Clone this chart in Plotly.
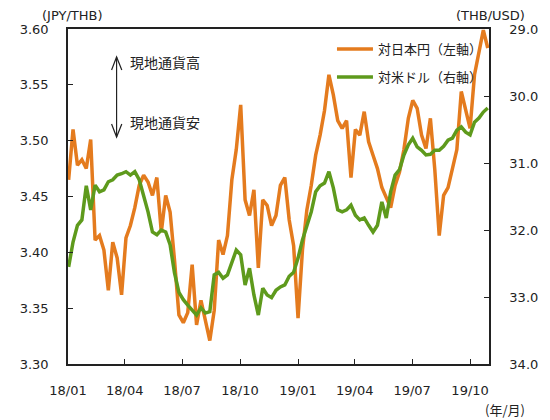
import pandas as pd
import plotly.graph_objects as go

# 週次の日付（2018/01〜2019/10）
fechas = pd.date_range("2018-01-02", periods=96, freq="7D")

# 対日本円 (JPY/THB, 左軸)
jpy_thb = [
    3.465, 3.510, 3.478, 3.483, 3.475, 3.501, 3.411, 3.415, 3.402, 3.366,
    3.409, 3.395, 3.362, 3.413, 3.424, 3.440, 3.460, 3.469, 3.463, 3.451,
    3.467, 3.418, 3.451, 3.436, 3.393, 3.344, 3.337, 3.346, 3.389, 3.335,
    3.357, 3.339, 3.321, 3.348, 3.411, 3.398, 3.415, 3.465, 3.492, 3.532,
    3.447, 3.433, 3.456, 3.386, 3.447, 3.442, 3.424, 3.433, 3.460, 3.467,
    3.429, 3.406, 3.341, 3.402, 3.438, 3.460, 3.487, 3.505, 3.527, 3.559,
    3.541, 3.518, 3.511, 3.518, 3.467, 3.510, 3.505, 3.526, 3.499, 3.487,
    3.475, 3.458, 3.449, 3.440, 3.460, 3.472, 3.492, 3.520, 3.536, 3.529,
    3.505, 3.493, 3.520, 3.474, 3.415, 3.451, 3.458, 3.475, 3.492, 3.544,
    3.526, 3.511, 3.559, 3.581, 3.599, 3.583,
]

# 対米ドル (THB/USD, 右軸)
thb_usd = [
    32.55, 32.18, 31.93, 31.85, 31.34, 31.70, 31.33, 31.43, 31.40, 31.28,
    31.25, 31.18, 31.16, 31.13, 31.18, 31.13, 31.25, 31.48, 31.73, 32.03,
    32.07, 32.00, 32.03, 32.22, 32.64, 32.93, 33.04, 33.12, 33.19, 33.27,
    33.16, 33.24, 33.22, 32.67, 32.63, 32.72, 32.67, 32.48, 32.30, 32.37,
    32.82, 32.57, 32.97, 33.27, 32.87, 32.97, 33.01, 32.90, 32.85, 32.82,
    32.69, 32.63, 32.42, 32.15, 31.94, 31.73, 31.43, 31.34, 31.30, 31.13,
    31.37, 31.70, 31.73, 31.70, 31.63, 31.78, 31.85, 31.82, 31.93, 32.03,
    31.93, 31.58, 31.82, 31.43, 31.18, 31.10, 30.88, 30.73, 30.63, 30.76,
    30.81, 30.88, 30.87, 30.81, 30.81, 30.75, 30.66, 30.63, 30.51, 30.46,
    30.54, 30.58, 30.39, 30.33, 30.24, 30.18,
]

naranja = "#E47B1E"
verde = "#5E9A1C"
eje = "#222222"
fuente_num = dict(family="DejaVu Sans", size=13, color=eje)
fuente_jp = "Noto Sans CJK JP"

fig = go.Figure()
fig.add_trace(go.Scatter(x=fechas, y=jpy_thb, mode="lines", name="対日本円（左軸）",
                         line=dict(color=naranja, width=3.5), legendgroup="a"))
fig.add_trace(go.Scatter(x=fechas, y=thb_usd, mode="lines", name="対米ドル（右軸）",
                         line=dict(color=verde, width=3.5), yaxis="y2", legendgroup="b"))

# ページの余白 8px を差し引いた大きさ
fig.update_layout(
    width=542, height=412,
    margin=dict(l=48, r=52, t=21, b=56),
    plot_bgcolor="white", paper_bgcolor="white",
    showlegend=True,
    legend=dict(x=0.627, y=0.985, xanchor="left", yanchor="top",
                font=dict(family=fuente_jp, size=13, color=eje),
                bgcolor="rgba(0,0,0,0)", tracegroupgap=8, itemwidth=36),
    xaxis=dict(range=["2018-01-01", "2019-10-31"], tick0="2018-01-01", dtick="M3",
               tickformat="%y/%m", ticks="inside", ticklen=5, tickcolor=eje,
               showline=True, linecolor=eje, linewidth=1.5, mirror=True,
               showgrid=False, zeroline=False, tickfont=fuente_num,
               ticklabelstandoff=14),
    yaxis=dict(range=[3.30, 3.60], dtick=0.05, tickformat=".2f", ticks="inside",
               ticklen=5, tickcolor=eje, showline=True, linecolor=eje, linewidth=1.5,
               showgrid=False, zeroline=False, tickfont=fuente_num,
               ticklabelstandoff=15),
    yaxis2=dict(range=[34, 29], dtick=1, tickformat=".1f", overlaying="y", side="right",
                ticks="inside", ticklen=5, tickcolor=eje, showline=True, linecolor=eje,
                linewidth=1.5, showgrid=False, zeroline=False, tickfont=fuente_num,
                ticklabelstandoff=16),
)

# 単位ラベル
fig.add_annotation(text="(JPY/THB)", xref="paper", yref="paper", x=-0.066, y=1.04,
                   xanchor="left", yanchor="middle", showarrow=False, font=fuente_num)
fig.add_annotation(text="(THB/USD)", xref="paper", yref="paper", x=1.09, y=1.04,
                   xanchor="right", yanchor="middle", showarrow=False, font=fuente_num)
fig.add_annotation(text="(年/月)", xref="paper", yref="paper", x=1.09, y=-0.137,
                   xanchor="right", yanchor="middle", showarrow=False,
                   font=dict(family=fuente_jp, size=13, color=eje))

# 現地通貨高・安の矢印
fig.add_annotation(text="現地通貨高", xref="paper", yref="paper", x=0.142, y=0.90,
                   xanchor="left", yanchor="middle", showarrow=False,
                   font=dict(family=fuente_jp, size=14, color=eje))
fig.add_annotation(text="現地通貨安", xref="paper", yref="paper", x=0.142, y=0.722,
                   xanchor="left", yanchor="middle", showarrow=False,
                   font=dict(family=fuente_jp, size=14, color=eje))
flecha = dict(color=eje, width=1.2)
fig.add_shape(type="line", xref="paper", yref="paper", x0=0.1154, x1=0.1154,
              y0=0.6776, y1=0.9164, line=flecha)
fig.add_shape(type="path", xref="paper", yref="paper",
              path="M 0.1035 0.8776 L 0.1154 0.9164 L 0.1278 0.8776", line=flecha)
fig.add_shape(type="path", xref="paper", yref="paper",
              path="M 0.1035 0.7164 L 0.1154 0.6776 L 0.1278 0.7164", line=flecha)

fig.write_html("out.html")
